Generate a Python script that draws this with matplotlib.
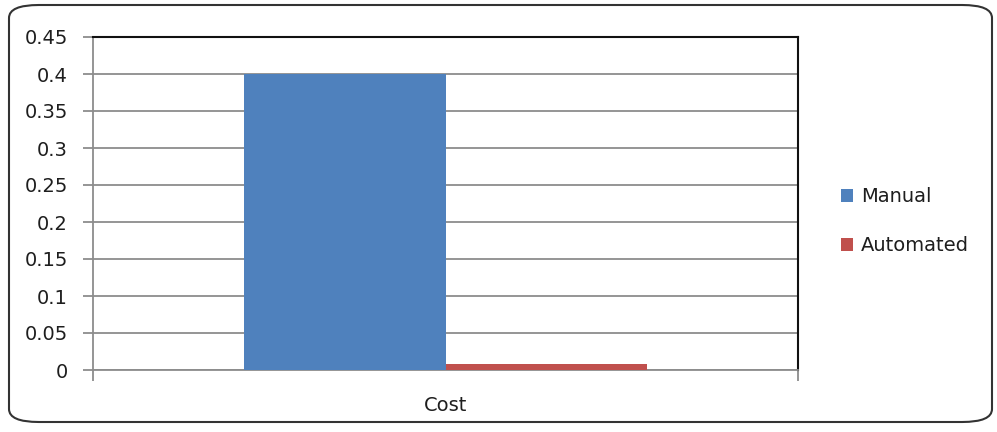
import matplotlib
matplotlib.use("Agg")
import matplotlib.pyplot as plt
from matplotlib.patches import FancyBboxPatch

categories = ["Cost"]
series_names = ["Manual", "Automated"]
manual = [0.40]
automated = [0.008]
yticks = [0, 0.05, 0.1, 0.15, 0.2, 0.25, 0.3, 0.35, 0.4, 0.45]
ytick_labels = ["0", "0.05", "0.1", "0.15", "0.2", "0.25", "0.3", "0.35", "0.4", "0.45"]

colors = ["#4F81BD", "#C0504D"]
plt.rcParams['font.family'] = ['DejaVu Sans']
FS = 14
TXT = "#1e1e1e"

fig = plt.figure(figsize=(9.97, 4.32), dpi=100)
ax = fig.add_axes([93/997, 1-370/432, (798-93)/997, (370-37)/432])

# rounded outer border
border = FancyBboxPatch((9/997, 10/432), (992-9)/997, (427-10)/432,
                        boxstyle="round,pad=0,rounding_size=0.03",
                        transform=fig.transFigure, fill=False,
                        edgecolor="#333333", linewidth=1.5, zorder=0)
fig.patches.append(border)

w = 0.286
x = list(range(len(categories)))
ax.bar([xi - w/2 for xi in x], manual, width=w, color=colors[0], label=series_names[0], zorder=3)
ax.bar([xi + w/2 for xi in x], automated, width=w, color=colors[1], label=series_names[1], zorder=3)

ax.set_xlim(-0.5, len(categories) - 0.5)
ax.set_ylim(0, 0.45)
ax.set_yticks(yticks)
ax.set_yticklabels(ytick_labels, fontsize=FS, color=TXT)
ax.yaxis.grid(True, color="#8c8c8c", linewidth=1.3, zorder=0)
ax.set_axisbelow(True)

ax.set_xticks([-0.5, len(categories) - 0.5])
ax.set_xticklabels([])
ax.set_xticks(x, minor=True)
ax.set_xticklabels(categories, minor=True, fontsize=FS, color=TXT)
ax.tick_params(axis='x', which='major', length=8, color="#8c8c8c", width=1.3)
ax.tick_params(axis='x', which='minor', length=0, pad=19)
ax.tick_params(axis='y', length=7, color="#8c8c8c", width=1.3, pad=11)

for s in ['left', 'bottom']:
    ax.spines[s].set_color("#8c8c8c")
    ax.spines[s].set_linewidth(1.3)
for s in ['top', 'right']:
    ax.spines[s].set_color("#111111")
    ax.spines[s].set_linewidth(1.5)

leg = fig.legend(loc='center left', bbox_to_anchor=(823/997, 1-221/432),
                 frameon=False, fontsize=FS, handlelength=0.65, handleheight=0.65,
                 handletextpad=0.4, labelspacing=1.55)
for t in leg.get_texts():
    t.set_color(TXT)

fig.savefig("out.png", dpi=100)
